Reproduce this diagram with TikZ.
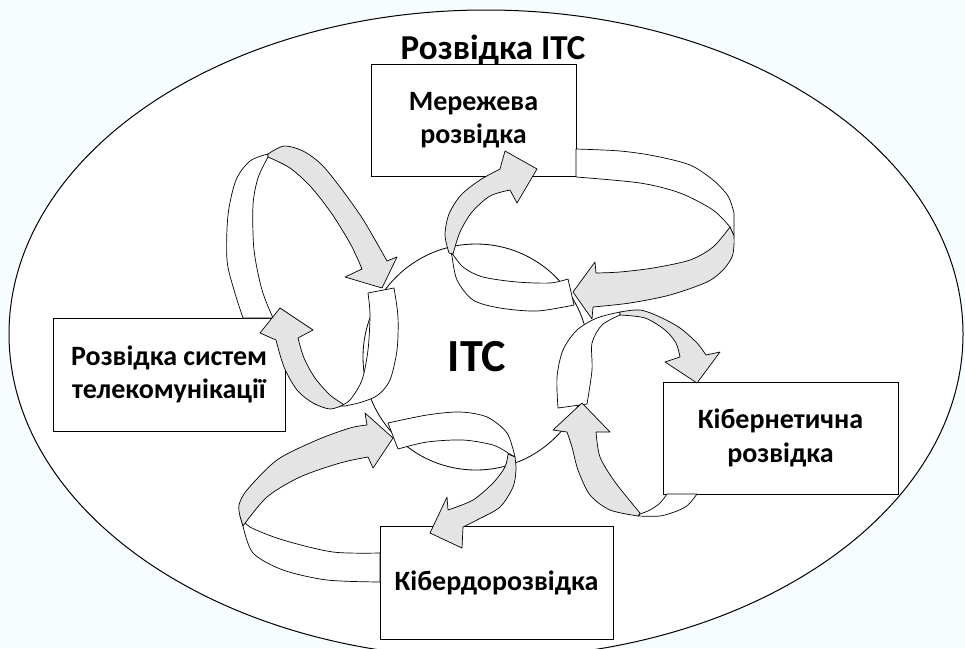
\documentclass[tikz,border=0pt]{standalone}
\usepackage{fontspec}
\setmainfont{Carlito}
\definecolor{ribgray}{RGB}{228,228,228}
\definecolor{bgc}{RGB}{247,253,255}
\begin{document}
\begin{tikzpicture}[x=1pt,y=-1pt,
  rib/.style={draw=black, line width=0.7pt, line join=round},
  ribw/.style={rib, fill=white},
  ribg/.style={rib, fill=ribgray},
  box/.style={draw=black, line width=0.9pt, fill=white, align=center, inner sep=0pt,
    font=\bfseries\fontsize{28}{33.5}\selectfont}
]
\useasboundingbox (0,0) rectangle (965,648);
\clip (0,0) rectangle (965,648);
\fill[bgc] (0,0) rectangle (965,648);
% outer ellipse
\filldraw[fill=white, draw=black, line width=1pt] (486,334) ellipse [x radius=477, y radius=324];
\node[font=\bfseries\fontsize{35}{40}\selectfont, anchor=base] (title) at (493,59) {Розвідка ІТС};
% central circle
\node[circle, draw=black, line width=0.8pt, fill=white, minimum size=226pt, inner sep=0pt] (itc) at (476,357) {};
\node[font=\bfseries\fontsize{46}{50}\selectfont] (itclabel) at (477,357) {ІТС};
% boxes
\node[box, minimum width=205pt, minimum height=112pt] (net) at (473.5,120) {Мережева\\розвідка};
\node[box, minimum width=232pt, minimum height=113pt] (tel) at (169,374.5) {Розвідка систем\\телекомунікації};
\node[box, minimum width=235pt, minimum height=112pt] (cyb) at (780.5,438) {Кібернетична\\розвідка};
\node[box, minimum width=233pt, minimum height=113pt] (cbd) at (496.5,582.5) {Кібердорозвідка};

% ---- white (back) parts of ribbons ----
% A1 white (from left box up)
\filldraw[ribw] plot[smooth] coordinates {(243,318) (234,290) (227,260) (228,215) (236,180) (250,161) (268,154)}
  -- plot[smooth] coordinates {(268,157) (258,178) (253,205) (254,250) (262,290) (273,318)} -- cycle;
% A2 white (from circle down)
\filldraw[ribw] plot[smooth] coordinates {(368,293) (370,315) (368,350) (362,380) (350,400) (340,406)}
  -- plot[smooth] coordinates {(345,406) (362,402) (378,395) (390,380) (397,350) (398,317) (394,288)} -- cycle;
% B1 white (from circle, curling up)
\filldraw[ribw] plot[smooth] coordinates {(568,279) (550,283) (517,282) (483,277) (463,267) (450,250)}
  -- plot[smooth] coordinates {(452,256) (457,280) (473,300) (500,308) (537,311) (574,305)} -- cycle;
% B2 white (from top box to the right)
\filldraw[ribw] plot[smooth] coordinates {(576,149) (620,151) (655,156) (690,165) (713,180) (728,196) (734,213)}
  -- (734,236) -- (730,227)
  -- plot[smooth] coordinates {(730,227) (713,210) (680,193) (640,183) (576,177)} -- cycle;
% C1 white (from circle up)
\filldraw[ribw] plot[smooth] coordinates {(558,408) (557,377) (563,350) (577,330) (597,318) (620,312)}
  -- plot[smooth] coordinates {(620,315) (602,325) (592,343) (592,370) (587,404)} -- cycle;
% C2 white (from right box down)
\filldraw[ribw] plot[smooth] coordinates {(697,494) (688,505) (677,511) (660,516) (638,516)}
  -- plot[smooth] coordinates {(640,514) (650,510) (660,503) (667,494)} -- cycle;
% D1 white (from bottom box to the left)
\filldraw[ribw] plot[smooth] coordinates {(380,553) (333,552) (283,540) (250,527) (240,516)}
  -- plot[smooth] coordinates {(243,526) (253,553) (283,570) (327,580) (380,582)} -- cycle;
% D2 white (from circle to the right)
\filldraw[ribw] plot[smooth] coordinates {(388,423) (427,415) (460,412) (487,417) (507,433) (515,457)}
  -- plot[smooth] coordinates {(508,453) (493,445) (463,440) (427,442) (398,449)} -- cycle;

% ---- grey (front) parts with heads ----
% A1 grey -> circle
\filldraw[ribg] plot[smooth] coordinates {(268,154) (284,146) (303,151) (322,165) (343,191) (364,221) (387,261)}
  -- (397,257) -- (382,288) -- (345,277)
  -- plot[smooth] coordinates {(362,269) (351,245) (332,214) (311,187) (290,168) (268,157)} -- cycle;
% A2 grey -> left box
\filldraw[ribg] plot[smooth] coordinates {(343,405) (330,409) (313,403) (297,390) (284,367) (276,340)}
  -- (260,333) -- (280,308) -- (313,330)
  -- plot[smooth] coordinates {(298,338) (304,358) (315,378) (330,395) (343,404)} -- cycle;
% B1 grey -> top box
\filldraw[ribg] plot[smooth] coordinates {(449,253) (445,235) (449,214) (461,195) (480,180) (500,169)}
  -- (505,151) -- (537,169) -- (517,203)
  -- plot[smooth] coordinates {(510,190) (490,196) (472,212) (460,232) (453,254)} -- cycle;
% B2 grey -> circle
\filldraw[ribg] plot[smooth] coordinates {(734,236) (734,245) (732,257) (723,270) (707,282) (670,295) (630,303) (593,307)}
  -- (592,319) -- (573,292) -- (595,262)
  -- plot[smooth] coordinates {(596,273) (620,272) (653,268) (690,260) (713,247) (730,227)} -- cycle;
% C1 grey -> right box
\filldraw[ribg] plot[smooth] coordinates {(620,312) (640,310) (660,317) (680,328) (697,343) (706,355)}
  -- (720,352) -- (697,383) -- (665,362)
  -- plot[smooth] coordinates {(680,357) (676,343) (665,330) (645,318) (620,315)} -- cycle;
% C2 grey -> circle
\filldraw[ribg] plot[smooth] coordinates {(638,516) (610,510) (590,495) (578,470) (572,447) (567,432)}
  -- (553,430) -- (582,403) -- (610,432)
  -- plot[smooth] coordinates {(596,432) (600,457) (615,482) (640,513)} -- cycle;
% D1 grey -> circle
\filldraw[ribg] plot[smooth] coordinates {(240,516) (239,505) (247,490) (277,460) (317,440) (350,428) (367,425)}
  -- (365,413) -- (393,438) -- (373,468)
  -- plot[smooth] coordinates {(368,457) (340,463) (300,477) (267,497) (243,526)} -- cycle;
% D2 grey -> bottom box
\filldraw[ribg] plot[smooth] coordinates {(515,457) (516,470) (513,487) (500,507) (477,520) (463,527)}
  -- (462,548) -- (430,533) -- (447,497)
  -- plot[smooth] coordinates {(448,510) (473,500) (493,483) (505,467) (508,454)} -- cycle;
\end{tikzpicture}
\end{document}
